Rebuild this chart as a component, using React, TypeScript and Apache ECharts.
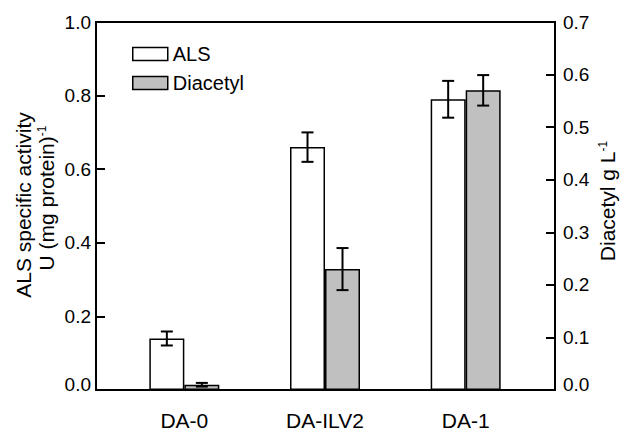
import React, { useEffect, useRef } from "react";
import * as echarts from "echarts";

const categories = ["DA-0", "DA-ILV2", "DA-1"];
const alsValues = [0.14, 0.66, 0.79];
const alsErrors = [0.019, 0.04, 0.05];
const diacetylValues = [0.01, 0.23, 0.57];
const diacetylErrors = [0.0035, 0.04, 0.029];
const seriesNames = ["ALS", "Diacetyl"];

const FONT = "'Liberation Sans', Arial, Helvetica, sans-serif";
const BAR_W = 35;

function errorRender(offset: number) {
  return (params: any, api: any) => {
    const x = api.value(0);
    const lo = api.value(1);
    const hi = api.value(2);
    const top = api.coord([x, hi]);
    const bot = api.coord([x, lo]);
    const cx = top[0] + offset;
    const style = { stroke: "#000", lineWidth: 2 };
    return {
      type: "group",
      children: [
        { type: "line", shape: { x1: cx, y1: top[1], x2: cx, y2: bot[1] }, style },
        { type: "line", shape: { x1: cx - 6, y1: top[1], x2: cx + 6, y2: top[1] }, style },
        { type: "line", shape: { x1: cx - 6, y1: bot[1], x2: cx + 6, y2: bot[1] }, style },
      ],
    };
  };
}

const tickFormatter = (v: number) => (v === 0 ? "{z|0.0}" : v.toFixed(1));

export default function App() {
  const ref = useRef<HTMLDivElement>(null);
  useEffect(() => {
    if (!ref.current) return;
    const chart = echarts.init(ref.current, null, { renderer: "svg" });
    const axisLineStyle = { color: "#000", width: 2 };
    const yAxisCommon = {
      type: "value",
      axisLine: { show: true, onZero: false, lineStyle: axisLineStyle },
      axisTick: { show: true, inside: true, length: 9, lineStyle: axisLineStyle },
      splitLine: { show: false },
    };
    const labelRich = { z: { fontSize: 19, color: "#000", fontFamily: FONT, padding: [0, 0, 12, 0] } };
    const option: any = {
      animation: false,
      textStyle: { fontFamily: FONT },
      grid: {
        left: 96,
        right: 65,
        top: 22,
        bottom: 40,
        show: true,
        borderColor: "#000",
        borderWidth: 2,
        backgroundColor: "transparent",
      },
      legend: {
        data: seriesNames,
        orient: "vertical",
        left: 127,
        top: 39,
        itemWidth: 35,
        itemHeight: 13,
        itemGap: 9,
        itemTextGap: 9,
        icon: "rect",
        itemStyle: { borderColor: "#000", borderWidth: 1.5 },
        textStyle: { fontSize: 20, lineHeight: 20, color: "#000", fontFamily: FONT },
      },
      xAxis: {
        type: "value",
        min: -0.628,
        max: 2.635,
        axisLine: { show: true, onZero: false, lineStyle: axisLineStyle },
        axisTick: { show: false },
        splitLine: { show: false },
        axisLabel: {
          customValues: categories.map((_, i) => i),
          formatter: (v: number) => categories[Math.round(v)] ?? "",
          fontSize: 21,
          color: "#000",
          margin: 20,
          fontFamily: FONT,
        },
      },
      yAxis: [
        {
          ...yAxisCommon,
          position: "left",
          min: 0,
          max: 1,
          interval: 0.2,
          axisLabel: {
            fontSize: 19,
            color: "#000",
            margin: 5,
            fontFamily: FONT,
            formatter: tickFormatter,
            rich: labelRich,
          },
        },
        {
          ...yAxisCommon,
          position: "right",
          min: 0,
          max: 0.7,
          interval: 0.1,
          axisLabel: {
            fontSize: 19,
            color: "#000",
            margin: 8,
            fontFamily: FONT,
            formatter: tickFormatter,
            rich: labelRich,
          },
        },
      ],
      series: [
        {
          name: seriesNames[0],
          type: "bar",
          yAxisIndex: 0,
          barWidth: BAR_W,
          barGap: "0%",
          itemStyle: { color: "#ffffff", borderColor: "#000", borderWidth: 1.5 },
          data: categories.map((_, i) => [i, alsValues[i]]),
        },
        {
          name: seriesNames[1],
          type: "bar",
          yAxisIndex: 1,
          barWidth: BAR_W,
          barGap: "0%",
          itemStyle: { color: "#c0c0c0", borderColor: "#000", borderWidth: 1.5 },
          data: categories.map((_, i) => [i, diacetylValues[i]]),
        },
        {
          name: "ALS error",
          type: "custom",
          yAxisIndex: 0,
          z: 10,
          renderItem: errorRender(-BAR_W / 2),
          data: categories.map((_, i) => [i, alsValues[i] - alsErrors[i], alsValues[i] + alsErrors[i]]),
        },
        {
          name: "Diacetyl error",
          type: "custom",
          yAxisIndex: 1,
          z: 10,
          renderItem: errorRender(BAR_W / 2),
          data: categories.map((_, i) => [
            i,
            diacetylValues[i] - diacetylErrors[i],
            diacetylValues[i] + diacetylErrors[i],
          ]),
        },
      ],
      graphic: [
        {
          type: "text",
          x: 23,
          y: 205,
          rotation: Math.PI / 2,
          style: {
            text: "ALS specific activity",
            fontSize: 21,
            fontFamily: FONT,
            fill: "#000",
            align: "center",
            verticalAlign: "middle",
          },
        },
        {
          type: "text",
          x: 46,
          y: 198,
          rotation: Math.PI / 2,
          style: {
            text: "U (mg protein){sup|-1}",
            fontSize: 21,
            fontFamily: FONT,
            fill: "#000",
            align: "center",
            verticalAlign: "middle",
            rich: {
              sup: { fontSize: 12, verticalAlign: "top", fontFamily: FONT, fill: "#000" },
            },
          },
        },
        {
          type: "text",
          x: 607,
          y: 201,
          rotation: Math.PI / 2,
          style: {
            text: "Diacetyl g L{sup|-1}",
            fontSize: 21,
            fontFamily: FONT,
            fill: "#000",
            align: "center",
            verticalAlign: "middle",
            rich: {
              sup: { fontSize: 12, verticalAlign: "top", fontFamily: FONT, fill: "#000" },
            },
          },
        },
      ],
    };
    chart.setOption(option);
    return () => chart.dispose();
  }, []);
  return (
    <div
      ref={ref}
      style={{ position: "fixed", left: 0, top: 0, width: 620, height: 431, background: "#fff" }}
    />
  );
}
